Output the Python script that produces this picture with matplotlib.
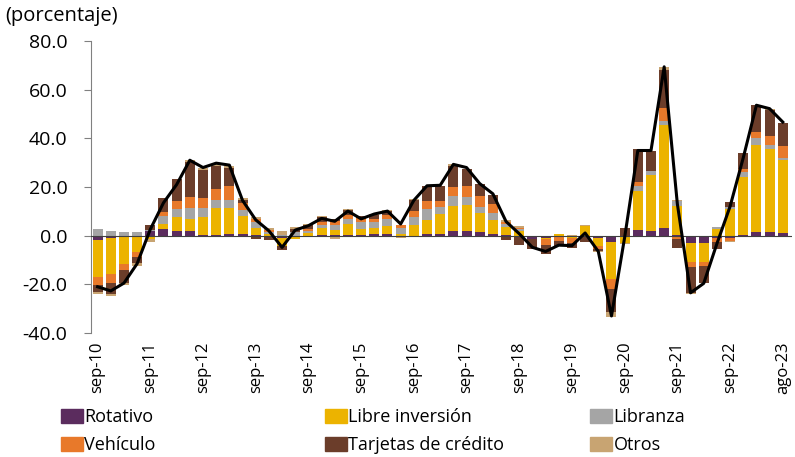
import numpy as np
import matplotlib
matplotlib.use("Agg")
import matplotlib.pyplot as plt
from matplotlib.patches import Patch

plt.rcParams['font.family'] = ['Open Sans', 'DejaVu Sans']

# quarterly observations, sep-10 ... jun-23, then ago-23
tick_labels = ['sep-10', 'sep-11', 'sep-12', 'sep-13', 'sep-14', 'sep-15', 'sep-16',
               'sep-17', 'sep-18', 'sep-19', 'sep-20', 'sep-21', 'sep-22', 'ago-23']

rotativo = [-1.6, -1.1, -0.7, -0.3, 2.0, 2.7, 2.0, 2.0, 0.3, 0.3, 0.8, 0.5, 0.1, -0.3,
            -0.9, -0.5, -0.4, 0.3, 0.2, 0.4, 0.3, 0.6, 0.6, -0.3, -0.3, 0.8, 0.8, 1.9,
            1.9, 1.4, 0.7, 0.2, -0.3, -1.3, -1.0, -0.3, -0.5, -0.2, -1.0, -2.7, -0.3,
            2.3, 2.1, 3.2, 0.3, -3.2, -3.2, -1.0, -0.8, 0.3, 1.4, 1.4, 1.1]
libre = [-15.4, -14.8, -10.9, -6.5, -1.5, 2.3, 5.5, 4.8, 7.5, 11.2, 10.6, 7.6, 3.1, 0.5,
         -3.2, -0.8, 0.9, 2.8, 2.0, 4.3, 2.3, 2.5, 3.3, 0.5, 4.2, 5.5, 8.0, 10.4, 10.9,
         8.1, 5.9, 3.2, 1.8, 0.0, -0.3, 0.5, -0.5, 3.9, -3.2, -15.1, -2.7, 16.2, 22.7,
         42.2, 11.7, -7.8, -7.8, 2.7, 11.0, 23.8, 35.7, 34.1, 29.8]
libranza = [2.6, 1.9, 1.5, 1.4, 0.5, 3.2, 3.4, 4.5, 3.5, 3.2, 3.2, 2.5, 2.3, 1.2, 0.3,
            1.4, 1.0, 1.4, 2.0, 2.3, 3.2, 2.7, 2.9, 2.5, 3.5, 4.8, 3.0, 3.8, 3.2, 2.3,
            2.7, 1.6, 1.0, 0.0, 0.0, 0.0, 0.0, 0.0, 0.0, 0.0, 0.0, 2.1, 1.6, 1.8, 2.3,
            0.0, 0.0, 0.7, 0.7, 2.1, 3.2, 1.6, 1.1]
vehiculo = [-3.4, -3.4, -2.7, -2.0, 0.0, 1.4, 3.4, 4.4, 4.0, 4.4, 5.8, 2.8, 1.4, 0.5,
            -0.3, 0.3, 0.7, 1.0, 1.8, 1.4, 1.4, 1.2, 1.6, 1.4, 2.5, 3.2, 2.5, 3.8, 4.5,
            4.4, 3.6, 0.8, 0.3, 0.0, -2.7, -1.8, -2.0, 0.0, -1.4, -4.1, 0.0, 1.6, 0.3,
            5.1, -1.5, -2.0, -1.4, -1.5, -1.4, 1.0, 2.1, 3.7, 4.8]
tarjetas = [-2.7, -4.5, -5.1, -2.5, 2.0, 5.8, 8.9, 14.5, 11.8, 9.4, 7.4, 1.4, -1.5, -1.5,
            -1.4, 1.0, 1.8, 2.2, 0.8, 2.3, 0.7, 1.6, 1.8, 0.0, 4.6, 6.0, 6.0, 8.9, 6.7,
            4.9, 3.7, -1.6, -3.7, -4.1, -3.4, -2.0, -2.0, -2.5, -0.7, -9.6, 3.3, 13.5,
            8.0, 15.8, -3.7, -10.7, -6.9, -2.8, 2.1, 6.6, 11.3, 11.0, 9.5]
otros = [-0.7, -1.0, -0.8, -1.2, -1.0, -0.5, 0.0, 1.0, 0.7, 0.8, 1.0, 0.7, 0.7, 1.0, 1.6,
         1.0, 0.3, 0.2, -1.4, 0.2, -0.7, 0.2, 0.2, -0.5, 0.3, 0.2, 0.2, 0.5, 0.3, 0.3,
         0.3, 0.5, 0.9, 0.0, 0.0, 0.3, 0.3, 0.6, -0.3, -1.8, -0.5, 0.0, 0.0, 1.4, 0.3,
         -0.3, 0.0, 0.3, -0.5, 0.2, 0.2, 0.2, 0.2]
total = [-21.0, -22.7, -19.5, -11.5, 2.6, 13.5, 21.0, 31.0, 28.0, 29.8, 29.0, 14.5, 6.5,
         2.0, -4.8, 2.3, 4.1, 7.1, 5.9, 10.1, 6.9, 8.9, 10.1, 4.8, 14.5, 20.5, 20.7, 29.3,
         28.0, 21.4, 17.2, 5.8, 0.8, -4.8, -6.5, -3.9, -4.1, 1.1, -6.5, -33.0, -0.7, 35.0,
         35.0, 69.4, 13.0, -23.5, -19.6, -3.3, 12.0, 32.0, 53.6, 52.2, 46.7]

series = [('Rotativo', rotativo, '#5b2c5e'),
          ('Libre inversión', libre, '#ecb300'),
          ('Libranza', libranza, '#a5a5a5'),
          ('Vehículo', vehiculo, '#e8792a'),
          ('Tarjetas de crédito', tarjetas, '#6b3d2a'),
          ('Otros', otros, '#c8a472')]

n = len(total)
x = np.arange(n)

fig = plt.figure(figsize=(7.95, 4.57), dpi=100)
ax = fig.add_axes([91 / 795, 1 - 333 / 457, (792 - 91) / 795, (333 - 41) / 457])

pos_base = np.zeros(n)
neg_base = np.zeros(n)
for name, vals, col in series:
    v = np.array(vals)
    p = np.where(v > 0, v, 0)
    m = np.where(v < 0, v, 0)
    ax.bar(x, p, 0.76, bottom=pos_base, color=col, linewidth=0)
    ax.bar(x, m, 0.76, bottom=neg_base, color=col, linewidth=0)
    pos_base += p
    neg_base += m

ax.axhline(0, color='#404040', lw=0.8, zorder=3)
ax.plot(x, total, color='black', lw=2.2, zorder=4)

ax.set_xlim(-0.5, n - 0.3)
ax.set_ylim(-40, 80)
ax.set_yticks(np.arange(-40, 81, 20))
ax.set_yticklabels(['%.1f' % t for t in np.arange(-40, 81, 20)], fontsize=14)
ax.set_xticks(np.arange(0, n, 4))
ax.set_xticklabels(tick_labels, rotation=90, fontsize=12)
ax.tick_params(axis='x', length=0, pad=6)
ax.tick_params(axis='y', length=5, color='#808080', pad=12)

for s in ['top', 'right', 'bottom']:
    ax.spines[s].set_visible(False)
ax.spines['left'].set_color('#808080')

fig.text(5 / 795, 1 - 16 / 457, '(porcentaje)', fontsize=14.5, va='center')

col_x = [52 / 795, 316 / 795, 581 / 795]
for j in range(3):
    hs = [Patch(color=series[j][2]), Patch(color=series[j + 3][2])]
    labs = [series[j][0], series[j + 3][0]]
    fig.legend(hs, labs, loc='upper left', bbox_to_anchor=(col_x[j], 1 - 399 / 457),
               frameon=False, fontsize=13, handlelength=1.2, handleheight=0.8,
               handletextpad=0.1, labelspacing=0.55, borderpad=0)

fig.savefig('out.png', dpi=100)
